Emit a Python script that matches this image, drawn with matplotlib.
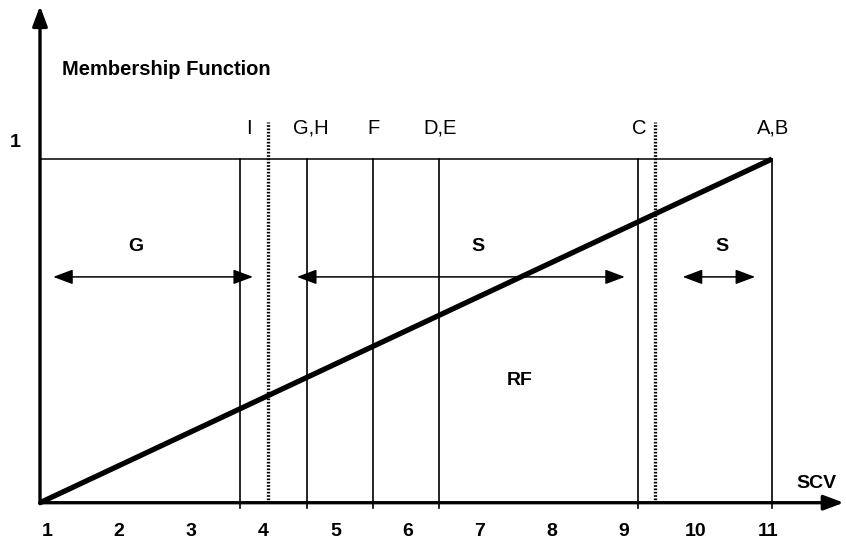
import matplotlib.pyplot as plt

plt.rcParams['font.family'] = ['Liberation Sans', 'DejaVu Sans']

# x positions of the solid vertical lines and their labels
line_labels = ['I', 'G,H', 'F', 'D,E', 'C', 'A,B']
line_x = [3.73, 4.65, 5.55, 6.45, 9.17, 11.0]
label_x = [3.85, 4.70, 5.55, 6.47, 9.18, 11.02]
# dotted boundaries
dotted_x = [4.11, 9.40]
# membership function (linear)
rf_x = [1, 11]
rf_y = [0, 1]
# double arrows: (start, end, label, label x)
arrows = [(1.18, 3.91, 'G', 2.31), (4.51, 8.99, 'S', 6.98), (9.78, 10.77, 'S', 10.32)]
ticks = list(range(1, 12))

fig = plt.figure(figsize=(8.46, 5.42), dpi=100)
ax = fig.add_axes([0, 0, 1, 1])
ax.set_xlim(0.4536, 12.011)
ax.set_ylim(-0.1143, 1.4626)
ax.axis('off')

# axes with arrow heads
ax.annotate('', xy=(1, 1.445), xytext=(1, -0.003),
            arrowprops=dict(arrowstyle='-|>,head_length=1.2,head_width=0.45', lw=2.4, color='black',
                            shrinkA=0, shrinkB=0))
ax.annotate('', xy=(11.98, 0), xytext=(0.995, 0),
            arrowprops=dict(arrowstyle='-|>,head_length=1.2,head_width=0.45', lw=2.4, color='black',
                            shrinkA=0, shrinkB=0))

# top line at membership 1
ax.plot([1, 11], [1, 1], color='black', lw=1.1)

for x in line_x:
    ax.plot([x, x], [-0.016, 1], color='black', lw=1.2)
for x in dotted_x:
    ax.plot([x, x], [0, 1.107], color='black', lw=2.4, linestyle=(0, (0.5, 0.5)))
for lab, x in zip(line_labels, label_x):
    ax.text(x, 1.09, lab, ha='center', va='center', fontsize=14.5)

ax.plot(rf_x, rf_y, color='black', lw=3.8, solid_capstyle='butt')

for x0, x1, lab, lx in arrows:
    ax.annotate('', xy=(x0, 0.657), xytext=(x1, 0.657),
                arrowprops=dict(arrowstyle='<|-|>,head_length=1.2,head_width=0.45', lw=1.1,
                                color='black', shrinkA=0, shrinkB=0))
    ax.text(lx, 0.745, lab, ha='center', va='center', fontsize=14, fontweight='bold')

# tick labels sit on a slightly compressed spacing in the original
for t in ticks:
    ax.text(1.096 + (t - 1) * 0.985, -0.085, str(t), ha='center', va='center',
            fontsize=14, fontweight='bold')

ax.text(0.66, 1.047, '1', ha='center', va='center', fontsize=14, fontweight='bold')
ax.text(1.3, 1.26, 'Membership Function', ha='left', va='center', fontsize=14.5, fontweight='bold')
ax.text(7.56, 0.357, 'RF', ha='center', va='center', fontsize=14, fontweight='bold')
ax.text(11.61, 0.057, 'SCV', ha='center', va='center', fontsize=14, fontweight='bold')

fig.savefig('out.png', dpi=100)
